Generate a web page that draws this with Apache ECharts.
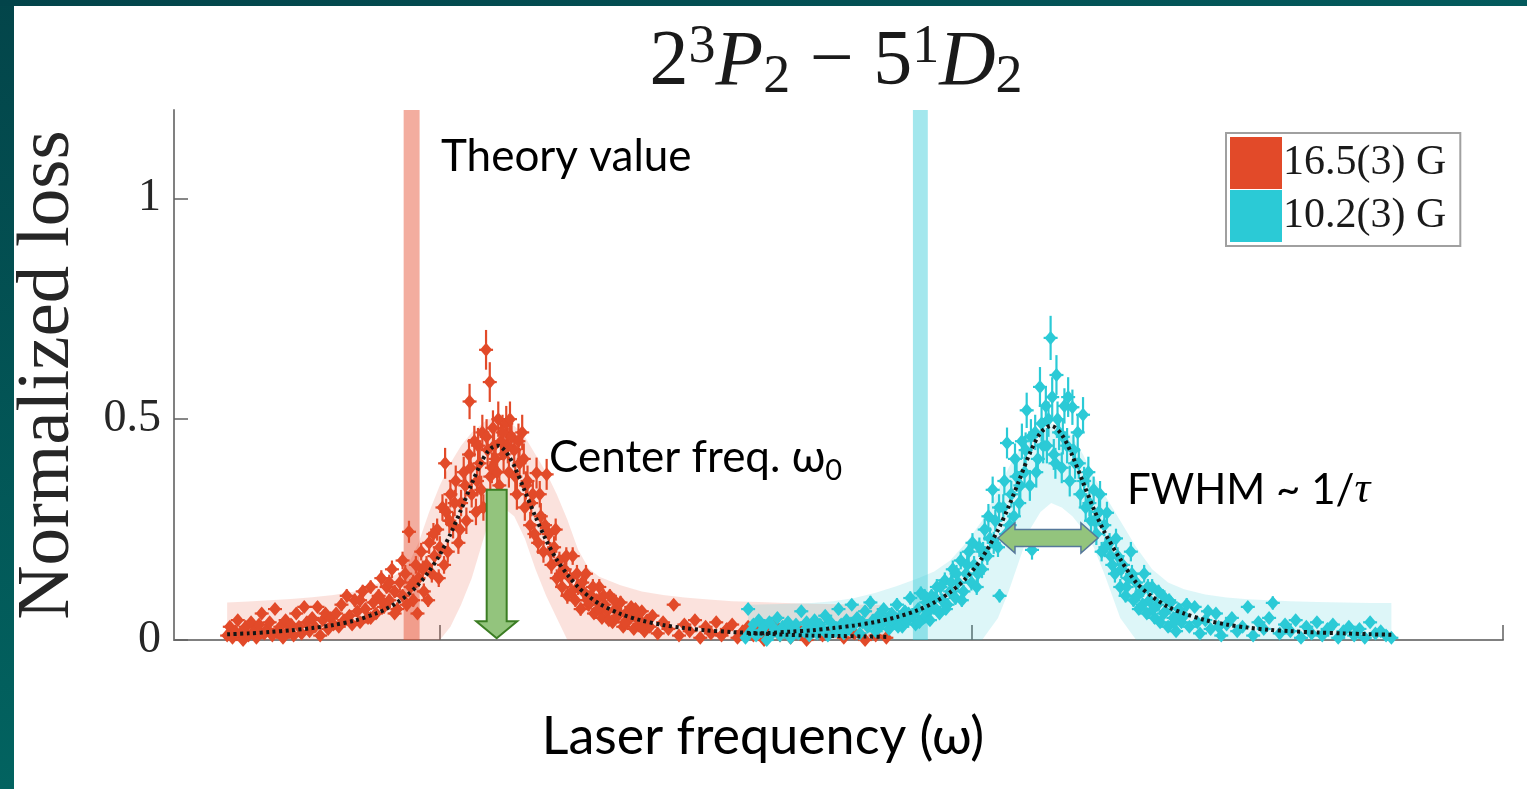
<!DOCTYPE html>
<html><head><meta charset="utf-8">
<script src="https://cdn.jsdelivr.net/npm/echarts@6/dist/echarts.min.js"></script>
<style>html,body{margin:0;padding:0;background:#fff}#c{width:1527px;height:789px}</style>
</head><body><div id="c"></div>
<script>
// ---------- DATA ----------
const seriesNames = ['16.5(3) G', '10.2(3) G'];
const yTicks = [0, 0.5, 1];
const xTicks = [0, 10, 20];
// theory value ranges (laser frequency units)
const theoryRed = [-0.68, -0.38];
const theoryCyan = [8.9, 9.18];
// measured points: [frequency, normalized loss, error]
const redPoints = [
[-4.0,0.01,0.01],[-3.95,0.03,0.01],[-3.9,0.005,0.01],[-3.85,0.02,0.01],[-3.8,0.045,0.012],[-3.75,0.015,0.01],[-3.7,0.0,0.01],[-3.65,0.03,0.01],[-3.6,0.01,0.01],[-3.55,0.04,0.012],[-3.5,0.02,0.01],[-3.45,0.005,0.01],[-3.4,0.035,0.01],[-3.35,0.06,0.012],[-3.3,0.015,0.01],[-3.25,0.025,0.01],[-3.2,0.04,0.01],[-3.15,0.01,0.01],[-3.1,0.07,0.012],[-3.05,0.02,0.01],[-3.0,0.03,0.01],[-2.95,0.005,0.01],[-2.9,0.045,0.012],[-2.85,0.02,0.01],[-2.8,0.035,0.01],[-2.75,0.01,0.01],[-2.7,0.06,0.012],[-2.65,0.03,0.01],[-2.6,0.015,0.01],[-2.55,0.075,0.012],[-2.5,0.04,0.01],[-2.45,0.02,0.01],[-2.4,0.05,0.012],[-2.35,0.03,0.01],[-2.3,0.075,0.012],[-2.25,0.01,0.01],[-2.2,0.045,0.012],[-2.15,0.06,0.012],[-2.1,0.025,0.01],[-2.05,0.05,0.012],[-2.0,0.035,0.01],
[-1.95,0.06,0.012],[-1.9,0.03,0.01],[-1.85,0.08,0.015],[-1.8,0.045,0.012],[-1.75,0.1,0.015],[-1.7,0.055,0.012],[-1.65,0.035,0.01],[-1.6,0.09,0.015],[-1.55,0.065,0.012],[-1.5,0.04,0.012],[-1.45,0.11,0.015],[-1.4,0.07,0.012],[-1.35,0.05,0.012],[-1.3,0.12,0.015],[-1.25,0.085,0.015],[-1.2,0.06,0.012],[-1.15,0.1,0.015],[-1.1,0.14,0.018],[-1.05,0.075,0.015],[-1.0,0.12,0.015],[-0.95,0.09,0.015],[-0.9,0.16,0.02],[-0.85,0.11,0.015],[-0.8,0.07,0.015],[-0.75,0.13,0.018],[-0.7,0.1,0.015],[-0.65,0.15,0.02],[-0.58,0.245,0.025],[-0.55,0.12,0.018],[-0.5,0.09,0.015],[-0.45,0.17,0.02],[-0.4,0.14,0.02],[-0.35,0.2,0.02],[-0.3,0.11,0.018],[-0.25,0.17,0.02],[-0.2,0.22,0.025],[-0.15,0.15,0.02],[-0.1,0.19,0.02],[-0.05,0.25,0.025],[0.0,0.21,0.025],
[0.05,0.3,0.03],[0.1,0.4,0.035],[0.12,0.29,0.03],[0.15,0.2,0.025],[0.2,0.33,0.03],[0.25,0.26,0.03],[0.3,0.36,0.035],[0.35,0.22,0.025],[0.4,0.31,0.03],[0.45,0.38,0.035],[0.5,0.27,0.03],[0.55,0.42,0.035],[0.56,0.54,0.04],[0.6,0.33,0.03],[0.65,0.45,0.035],[0.7,0.36,0.035],[0.75,0.4,0.035],[0.8,0.47,0.04],[0.82,0.3,0.03],[0.87,0.657,0.045],[0.9,0.43,0.04],[0.94,0.584,0.045],[0.95,0.37,0.035],[1.0,0.48,0.04],[1.05,0.41,0.04],[1.1,0.5,0.04],[1.12,0.35,0.035],[1.15,0.45,0.04],[1.2,0.42,0.04],[1.25,0.49,0.04],[1.3,0.38,0.035],[1.35,0.46,0.04],[1.4,0.43,0.04],[1.45,0.33,0.035],[1.5,0.4,0.035],[1.55,0.47,0.04],[1.6,0.3,0.03],[1.65,0.36,0.035],[1.7,0.26,0.03],[1.75,0.33,0.03],[1.82,0.378,0.035],[1.85,0.22,0.025],[1.9,0.28,0.03],[1.95,0.2,0.025],[2.01,0.375,0.035],[2.05,0.24,0.025],[2.1,0.17,0.02],[2.15,0.21,0.025],[2.2,0.14,0.02],[2.25,0.18,0.02],
[2.3,0.12,0.02],[2.35,0.16,0.02],[2.4,0.1,0.018],[2.45,0.14,0.02],[2.5,0.19,0.02],[2.55,0.09,0.015],[2.6,0.12,0.018],[2.65,0.07,0.015],[2.7,0.11,0.018],[2.75,0.15,0.02],[2.8,0.08,0.015],[2.85,0.1,0.015],[2.9,0.06,0.012],[2.95,0.09,0.015],[3.0,0.12,0.018],[3.05,0.05,0.012],[3.1,0.08,0.015],[3.15,0.065,0.012],[3.2,0.1,0.015],[3.25,0.04,0.012],[3.3,0.07,0.012],[3.35,0.055,0.012],[3.4,0.085,0.015],[3.45,0.03,0.01],[3.5,0.06,0.012],[3.55,0.045,0.012],[3.6,0.075,0.012],[3.65,0.025,0.01],[3.7,0.05,0.012],[3.75,0.035,0.01],[3.8,0.065,0.012],[3.85,0.02,0.01],[3.9,0.045,0.012],[3.95,0.03,0.01],[4.0,0.055,0.012],[4.1,0.015,0.01],[4.2,0.04,0.01],[4.3,0.025,0.01],[4.4,0.08,0.012],[4.5,0.01,0.01],[4.6,0.035,0.01],[4.7,0.02,0.01],[4.8,0.045,0.012],[4.9,0.005,0.01],[5.0,0.03,0.01],[5.1,0.015,0.01],[5.2,0.04,0.01],[5.3,0.01,0.01],[5.4,0.025,0.01],[5.5,0.035,0.01],[5.6,0.005,0.01],[5.7,0.02,0.01],[5.8,0.03,0.01],[5.9,0.01,0.01],[6.0,0.025,0.01],[6.1,0.0,0.01],[6.2,0.02,0.01],[6.3,0.035,0.01],[6.4,0.01,0.01],[6.5,0.02,0.01],[6.6,0.005,0.01],[6.7,0.03,0.01],[6.8,0.015,0.01],[6.9,0.0,0.01],[7.0,0.02,0.01],[7.2,0.01,0.01],[7.4,0.025,0.01],[7.6,0.005,0.01],[7.8,0.015,0.01],[8.0,0.0,0.01],[8.2,0.01,0.01],[8.4,0.005,0.01],
[-1.5,0.09,0.015],[-1.3,0.05,0.012],[-1.1,0.09,0.015],[-0.95,0.13,0.018],[-0.85,0.06,0.012],[-0.7,0.18,0.02],[-0.62,0.08,0.015],[-0.5,0.13,0.018],[-0.42,0.06,0.012],[-0.32,0.16,0.02],[-0.22,0.09,0.015],[-0.12,0.24,0.025],[-0.02,0.14,0.02],[0.08,0.17,0.02],[0.18,0.27,0.028],[0.28,0.31,0.03],[0.38,0.25,0.028],[0.48,0.35,0.032],[0.58,0.39,0.035],[0.68,0.29,0.03],[0.72,0.44,0.04],[0.78,0.34,0.032],[0.88,0.46,0.04],[0.98,0.39,0.035],[1.02,0.44,0.04],[1.08,0.38,0.035],[1.18,0.47,0.04],[1.28,0.44,0.04],[1.32,0.5,0.04],[1.42,0.37,0.035],[1.48,0.45,0.04],[1.58,0.41,0.035],[1.62,0.35,0.032],[1.72,0.31,0.03],[1.78,0.24,0.025],[1.88,0.33,0.03],[1.98,0.26,0.025],[2.08,0.2,0.022],[2.18,0.25,0.025],[2.28,0.15,0.02],[2.38,0.19,0.02],[2.48,0.11,0.018],[2.58,0.15,0.02],[2.68,0.13,0.018],[2.78,0.09,0.015],[2.88,0.12,0.018],[2.98,0.07,0.012],[3.08,0.1,0.015],[3.18,0.045,0.012],[3.28,0.09,0.015],[3.38,0.06,0.012],[3.48,0.04,0.01],[3.58,0.055,0.012],[3.68,0.07,0.012],[3.78,0.03,0.01]
];
const cyanPoints = [
[5.75,0.005,0.01],[5.8,0.07,0.012],[5.85,0.02,0.01],[5.9,0.035,0.01],[5.95,0.01,0.01],[6.0,0.045,0.012],[6.05,0.02,0.01],[6.1,0.03,0.01],[6.15,0.0,0.01],[6.2,0.04,0.012],[6.25,0.015,0.01],[6.3,0.025,0.01],[6.35,0.05,0.012],[6.4,0.01,0.01],[6.45,0.03,0.01],[6.5,0.02,0.01],[6.55,0.04,0.012],[6.6,0.005,0.01],[6.65,0.025,0.01],[6.7,0.035,0.01],[6.75,0.015,0.01],[6.8,0.065,0.012],[6.85,0.02,0.01],[6.9,0.04,0.012],[6.95,0.01,0.01],[7.0,0.03,0.01],[7.05,0.045,0.012],[7.1,0.015,0.01],[7.15,0.035,0.01],[7.2,0.025,0.01],[7.25,0.055,0.012],[7.3,0.01,0.01],[7.35,0.04,0.012],[7.4,0.03,0.01],[7.45,0.02,0.01],[7.5,0.07,0.012],[7.55,0.035,0.01],[7.6,0.015,0.01],[7.65,0.045,0.012],[7.7,0.025,0.01],[7.75,0.08,0.012],[7.8,0.035,0.01],[7.85,0.05,0.012],[7.9,0.015,0.01],[7.95,0.04,0.012],[8.0,0.065,0.012],[8.05,0.03,0.01],[8.1,0.085,0.015],[8.15,0.045,0.012],[8.2,0.02,0.01],[8.25,0.055,0.012],[8.3,0.035,0.01],[8.35,0.07,0.012],[8.4,0.045,0.012],[8.45,0.025,0.01],[8.5,0.06,0.012],[8.55,0.04,0.012],[8.6,0.08,0.015],[8.65,0.05,0.012],[8.7,0.03,0.01],[8.75,0.065,0.012],[8.8,0.045,0.012],[8.85,0.095,0.015],[8.9,0.055,0.012],[8.95,0.035,0.01],[9.0,0.07,0.012],
[9.05,0.106,0.015],[9.1,0.05,0.012],[9.15,0.085,0.015],[9.2,0.065,0.012],[9.25,0.1,0.015],[9.3,0.075,0.012],[9.35,0.12,0.018],[9.4,0.06,0.012],[9.45,0.09,0.015],[9.5,0.135,0.018],[9.55,0.08,0.015],[9.6,0.11,0.015],[9.65,0.16,0.02],[9.7,0.095,0.015],[9.75,0.13,0.018],[9.8,0.18,0.02],[9.85,0.11,0.015],[9.9,0.15,0.02],[9.95,0.2,0.022],[10.0,0.13,0.018],[10.05,0.17,0.02],[10.1,0.12,0.018],[10.15,0.21,0.022],[10.2,0.16,0.02],[10.25,0.25,0.025],[10.3,0.19,0.02],[10.35,0.23,0.025],[10.4,0.34,0.03],[10.45,0.27,0.025],[10.5,0.21,0.022],[10.53,0.1,0.015],[10.6,0.3,0.03],[10.65,0.24,0.025],[10.67,0.446,0.035],[10.75,0.33,0.03],[10.8,0.28,0.03],[10.85,0.37,0.035],[10.9,0.31,0.03],[10.95,0.45,0.04],[11.0,0.38,0.035],[11.04,0.52,0.04],[11.1,0.35,0.035],[11.14,0.204,0.022],[11.2,0.47,0.04],[11.25,0.41,0.035],[11.29,0.573,0.045],[11.35,0.44,0.04],[11.4,0.53,0.045],[11.45,0.5,0.04],[11.49,0.684,0.05],[11.55,0.42,0.035],[11.6,0.6,0.045],[11.65,0.47,0.04],[11.7,0.39,0.035],[11.75,0.53,0.04],[11.8,0.44,0.04],[11.85,0.36,0.035],[11.9,0.527,0.04],[11.95,0.4,0.035],[12.0,0.47,0.04],[12.05,0.33,0.03],[12.1,0.51,0.04],[12.15,0.3,0.03],[12.2,0.38,0.035],[12.25,0.27,0.025],[12.3,0.34,0.03],[12.35,0.24,0.025],[12.4,0.29,0.03],[12.45,0.2,0.022],[12.5,0.26,0.025],[12.55,0.288,0.025],[12.6,0.22,0.022],[12.65,0.17,0.02],[12.7,0.15,0.02],[12.75,0.19,0.02],[12.8,0.12,0.018],[12.85,0.17,0.02],[12.9,0.1,0.015],[12.95,0.14,0.018],[13.0,0.2,0.022],[13.05,0.09,0.015],[13.1,0.13,0.018],[13.15,0.07,0.012],[13.2,0.11,0.015],[13.25,0.15,0.02],[13.3,0.06,0.012],[13.35,0.09,0.015],[13.4,0.12,0.018],[13.45,0.05,0.012],[13.5,0.08,0.015],[13.55,0.04,0.012],[13.6,0.1,0.015],[13.65,0.065,0.012],[13.7,0.03,0.01],[13.75,0.085,0.015],[13.8,0.05,0.012],[13.85,0.02,0.01],[13.9,0.07,0.012],[13.95,0.04,0.012],[14.0,0.055,0.012],[14.1,0.03,0.01],[14.2,0.075,0.012],[14.3,0.015,0.01],[14.4,0.045,0.012],[14.5,0.025,0.01],[14.6,0.06,0.012],[14.7,0.01,0.01],[14.8,0.035,0.01],[14.9,0.05,0.012],[15.0,0.02,0.01],[15.1,0.03,0.01],[15.2,0.075,0.012],[15.3,0.01,0.01],[15.4,0.04,0.012],[15.5,0.025,0.01],[15.6,0.05,0.012],[15.67,0.084,0.015],[15.8,0.015,0.01],[15.9,0.035,0.01],[16.0,0.02,0.01],[16.1,0.045,0.012],[16.2,0.005,0.01],[16.3,0.03,0.01],[16.4,0.015,0.01],[16.5,0.04,0.012],[16.6,0.01,0.01],[16.7,0.025,0.01],[16.8,0.035,0.01],[16.9,0.005,0.01],[17.0,0.02,0.01],[17.1,0.03,0.01],[17.2,0.01,0.01],[17.3,0.025,0.01],[17.4,0.005,0.01],[17.5,0.04,0.012],[17.6,0.015,0.01],[17.7,0.02,0.01],[17.8,0.01,0.01],[17.9,0.005,0.01],
[9.52,0.07,0.012],[9.62,0.13,0.018],[9.72,0.15,0.02],[9.82,0.09,0.015],[9.92,0.17,0.02],[10.02,0.22,0.022],[10.12,0.15,0.02],[10.22,0.2,0.022],[10.32,0.28,0.028],[10.42,0.22,0.025],[10.52,0.3,0.03],[10.62,0.36,0.032],[10.72,0.26,0.028],[10.82,0.41,0.035],[10.92,0.35,0.032],[11.02,0.43,0.04],[11.12,0.46,0.04],[11.22,0.38,0.035],[11.32,0.49,0.04],[11.42,0.44,0.04],[11.52,0.55,0.045],[11.58,0.4,0.035],[11.62,0.5,0.04],[11.72,0.46,0.04],[11.82,0.55,0.045],[11.92,0.43,0.035],[12.02,0.4,0.035],[12.12,0.36,0.032],[12.22,0.31,0.03],[12.32,0.27,0.028],[12.42,0.33,0.03],[12.52,0.21,0.022],[12.62,0.19,0.02],[12.72,0.23,0.022],[12.82,0.16,0.02],[12.92,0.12,0.018],[13.02,0.15,0.02],[13.12,0.1,0.015],[13.22,0.08,0.015],[13.32,0.12,0.018],[13.42,0.07,0.012],[13.52,0.11,0.015],[13.62,0.06,0.012],[13.72,0.09,0.015],[13.82,0.04,0.012],[13.92,0.06,0.012],[14.05,0.08,0.015],[14.25,0.04,0.012],[14.45,0.065,0.012],[14.65,0.03,0.01],[8.62,0.03,0.01],[8.82,0.06,0.012],[9.02,0.04,0.012],[9.12,0.1,0.015],[9.22,0.045,0.012],[9.32,0.095,0.015],[9.42,0.12,0.018]
];
// Lorentzian fits and confidence bands
const redFitX = [-4.0,-3.6,-3.2,-2.8,-2.4,-2.0,-1.6,-1.2,-1.0,-0.8,-0.6,-0.4,-0.2,0.0,0.2,0.4,0.6,0.8,0.9,1.0,1.1,1.2,1.3,1.4,1.6,1.8,2.0,2.2,2.4,2.6,2.8,3.0,3.4,3.8,4.2,4.6,5.0,5.5,6.0,6.5,7.0,7.5,8.0,8.4];
const redFitY = [0.013,0.015,0.018,0.022,0.027,0.034,0.044,0.06,0.071,0.085,0.103,0.126,0.156,0.193,0.24,0.295,0.354,0.407,0.426,0.437,0.44,0.432,0.416,0.394,0.337,0.279,0.226,0.182,0.148,0.12,0.099,0.082,0.059,0.044,0.034,0.027,0.022,0.018,0.015,0.012,0.010,0.009,0.008,0.007];
const redUpper = [0.085,0.087,0.09,0.093,0.097,0.102,0.11,0.126,0.137,0.15,0.17,0.22,0.29,0.35,0.4,0.44,0.47,0.49,0.5,0.5,0.5,0.5,0.49,0.485,0.46,0.42,0.38,0.33,0.272,0.205,0.162,0.143,0.124,0.11,0.102,0.096,0.092,0.088,0.086,0.084,0.082,0.081,0.08,0.08];
const redLower = [0,0,0,0,0,0,0,0,0,0,0,0,0,0,0.03,0.08,0.14,0.22,0.26,0.28,0.3,0.3,0.29,0.28,0.23,0.16,0.1,0.05,0,0,0,0,0,0,0,0,0,0,0,0,0,0,0,0];
const cyanFitX = [5.8,6.2,6.6,7.0,7.4,7.8,8.2,8.6,9.0,9.3,9.6,9.9,10.2,10.5,10.7,10.9,11.1,11.3,11.5,11.7,11.9,12.1,12.3,12.5,12.8,13.1,13.4,13.7,14.0,14.4,14.8,15.2,15.6,16.0,16.5,17.0,17.5,17.9];
const cyanFitY = [0.014,0.016,0.019,0.022,0.027,0.033,0.041,0.052,0.068,0.085,0.108,0.14,0.186,0.249,0.302,0.362,0.423,0.469,0.485,0.465,0.417,0.357,0.297,0.245,0.183,0.13,0.098,0.075,0.06,0.045,0.035,0.028,0.023,0.02,0.017,0.015,0.013,0.012];
const cyanUpper = [0.08,0.081,0.082,0.084,0.088,0.095,0.107,0.122,0.14,0.155,0.18,0.22,0.27,0.34,0.39,0.43,0.46,0.48,0.49,0.48,0.46,0.42,0.37,0.33,0.27,0.21,0.16,0.13,0.115,0.103,0.096,0.092,0.09,0.088,0.086,0.085,0.084,0.084];
const cyanLower = [0,0,0,0,0,0,0,0,0,0,0,0,0,0.05,0.11,0.18,0.25,0.29,0.31,0.3,0.28,0.25,0.21,0.15,0.05,0,0,0,0,0,0,0,0,0,0,0,0,0];
// annotation arrows: [x, yFrom, yTo] and [xFrom, xTo, y]
const centerArrow = [1.07, 0.34, 0.004];
const fwhmArrow = [10.5, 12.38, 0.231];

// ---------- STYLE ----------
const RED = '#E24A29', CYAN = '#2BCAD6';
const SERIF = '"Liberation Serif","DejaVu Serif",serif';
const SANS = 'Lato,"Noto Sans","DejaVu Sans",sans-serif';

const chart = echarts.init(document.getElementById('c'), null, {renderer: 'canvas'});

function bandRender(xs, up, lo, fill) {
  return function (params, api) {
    const pts = [];
    for (let i = 0; i < xs.length; i++) pts.push(api.coord([xs[i], up[i]]));
    for (let i = xs.length - 1; i >= 0; i--) pts.push(api.coord([xs[i], lo[i]]));
    return {type: 'polygon', shape: {points: pts, smooth: 0}, style: {fill: fill}};
  };
}
function theoryRender(range, fill) {
  return function (params, api) {
    const a = api.coord([range[0], 1.2]), b = api.coord([range[1], 0]);
    return {type: 'rect', shape: {x: a[0], y: a[1], width: b[0] - a[0], height: b[1] - a[1]}, style: {fill: fill}};
  };
}
function errRender(color) {
  return function (params, api) {
    const x = api.value(0), y = api.value(1), e = api.value(2);
    const p1 = api.coord([x, y + e]), p2 = api.coord([x, Math.max(0, y - e)]), c = api.coord([x, y]);
    return {type: 'group', children: [
      {type: 'line', shape: {x1: p1[0], y1: p1[1], x2: p2[0], y2: p2[1]}, style: {stroke: color, lineWidth: 2.2}},
      {type: 'line', shape: {x1: c[0] - 7, y1: c[1], x2: c[0] + 7, y2: c[1]}, style: {stroke: color, lineWidth: 2.2}}
    ]};
  };
}

const option = {
  backgroundColor: '#ffffff',
  animation: false,
  grid: {left: 174, top: 110, right: 24, bottom: 149, containLabel: false},
  xAxis: {
    type: 'value', min: -5, max: 20,
    axisLine: {show: true, onZero: false, lineStyle: {color: '#808080', width: 2}},
    axisTick: {show: true, inside: true, length: 15, customValues: xTicks, lineStyle: {color: '#606060', width: 1.5}},
    axisLabel: {show: false},
    splitLine: {show: false}
  },
  yAxis: {
    type: 'value', min: 0, max: 1.2,
    name: 'Normalized loss', nameLocation: 'middle', nameGap: 88,
    nameTextStyle: {fontFamily: SERIF, fontSize: 75, color: '#262626'},
    axisLine: {show: true, onZero: false, lineStyle: {color: '#808080', width: 2}},
    axisTick: {show: true, inside: true, length: 14, customValues: yTicks, lineStyle: {color: '#606060', width: 1.5}},
    axisLabel: {customValues: yTicks, fontFamily: SERIF, fontSize: 46, color: '#262626', margin: 13},
    splitLine: {show: false}
  },
  legend: {
    data: seriesNames, orient: 'vertical', left: 1226, top: 133,
    icon: 'rect', itemWidth: 52, itemHeight: 52, itemGap: 1,
    padding: [4, 14, 4, 4], borderColor: '#a0a0a0', borderWidth: 2, backgroundColor: '#ffffff',
    selectedMode: false,
    textStyle: {fontFamily: SERIF, fontSize: 42, color: '#1a1a1a', padding: [0, 0, 0, -4]}
  },
  graphic: [
    {type: 'rect', z: 100, shape: {x: 0, y: 0, width: 14, height: 789},
     style: {fill: new echarts.graphic.LinearGradient(0, 0, 0, 1, [{offset: 0, color: '#03454a'}, {offset: 1, color: '#026360'}])}},
    {type: 'rect', z: 100, shape: {x: 0, y: 0, width: 1527, height: 6},
     style: {fill: new echarts.graphic.LinearGradient(0, 0, 1, 0, [{offset: 0, color: '#03444a'}, {offset: 1, color: '#035a5c'}])}},
    {type: 'text', z: 100, x: 836, y: 63,
     style: {text: '{n|2}{sup|3}{it|P}{sub|2}{n| − 5}{sup|1}{it|D}{sub|2}', align: 'center', verticalAlign: 'middle',
       rich: {
         n: {fontFamily: SERIF, fontSize: 78, lineHeight: 84, fill: '#1a1a1a'},
         it: {fontFamily: SERIF, fontStyle: 'italic', fontSize: 78, lineHeight: 84, fill: '#1a1a1a'},
         sup: {fontFamily: SERIF, fontSize: 54, lineHeight: 44, verticalAlign: 'top', fill: '#1a1a1a'},
         sub: {fontFamily: SERIF, fontSize: 54, lineHeight: 36, verticalAlign: 'bottom', fill: '#1a1a1a'}
       }}},
    {type: 'text', z: 100, x: 441, y: 157, style: {text: 'Theory value', fontFamily: SANS, fontSize: 44, fill: '#000', align: 'left', verticalAlign: 'middle'}},
    {type: 'text', z: 100, x: 549, y: 458,
     style: {text: '{t|Center freq. ω}{s|0}', align: 'left', verticalAlign: 'middle',
       rich: {t: {fontFamily: SANS, fontSize: 44, lineHeight: 54, fill: '#000'}, s: {fontFamily: SANS, fontSize: 29, lineHeight: 32, verticalAlign: 'bottom', fill: '#000'}}}},
    {type: 'text', z: 100, x: 1127, y: 490,
     style: {text: '{t|FWHM ~ 1/}{i|τ}', align: 'left', verticalAlign: 'middle',
       rich: {t: {fontFamily: SANS, fontSize: 42, fill: '#000'}, i: {fontFamily: SERIF, fontStyle: 'italic', fontSize: 44, fill: '#000'}}}},
    {type: 'text', z: 100, x: 763, y: 737, style: {text: 'Laser frequency (ω)', fontFamily: SANS, fontSize: 52, fill: '#000', align: 'center', verticalAlign: 'middle'}}
  ],
  series: [
    {type: 'custom', name: 'redBand', silent: true, z: 1, data: [0], renderItem: bandRender(redFitX, redUpper, redLower, 'rgba(232,84,52,0.17)')},
    {type: 'custom', name: 'cyanBand', silent: true, z: 1, data: [0], renderItem: bandRender(cyanFitX, cyanUpper, cyanLower, 'rgba(42,200,214,0.16)')},
    {type: 'custom', name: 'theoryR', silent: true, z: 2, data: [0], renderItem: theoryRender(theoryRed, 'rgba(228,76,45,0.46)')},
    {type: 'custom', name: 'theoryC', silent: true, z: 2, data: [0], renderItem: theoryRender(theoryCyan, 'rgba(42,200,214,0.43)')},
    {type: 'custom', name: 'redErr', silent: true, z: 3, data: redPoints, renderItem: errRender(RED)},
    {type: 'custom', name: 'cyanErr', silent: true, z: 3, data: cyanPoints, renderItem: errRender(CYAN)},
    {type: 'scatter', name: seriesNames[0], z: 4, data: redPoints.map(p => [p[0], p[1]]), symbol: 'diamond', symbolSize: [12, 14], itemStyle: {color: RED, opacity: 1}},
    {type: 'scatter', name: seriesNames[1], z: 4, data: cyanPoints.map(p => [p[0], p[1]]), symbol: 'diamond', symbolSize: [12, 14], itemStyle: {color: CYAN, opacity: 1}},
    {type: 'line', name: 'redFit', z: 5, silent: true, smooth: 0.3, symbol: 'none', data: redFitX.map((x, i) => [x, redFitY[i]]),
     lineStyle: {color: '#151515', width: 4, type: [3, 3.5], cap: 'butt'}},
    {type: 'line', name: 'cyanFit', z: 5, silent: true, smooth: 0.3, symbol: 'none', data: cyanFitX.map((x, i) => [x, cyanFitY[i]]),
     lineStyle: {color: '#151515', width: 4, type: [3, 3.5], cap: 'butt'}},
    {type: 'custom', name: 'arrowDown', silent: true, z: 6, data: [centerArrow],
     renderItem: function (params, api) {
       const top = api.coord([api.value(0), api.value(1)]), tip = api.coord([api.value(0), api.value(2)]);
       const cx = tip[0], sw = 10, hw = 20.5, hh = 17;
       return {type: 'polygon', shape: {points: [[cx - sw, top[1]], [cx + sw, top[1]], [cx + sw, tip[1] - hh], [cx + hw, tip[1] - hh], [cx, tip[1]], [cx - hw, tip[1] - hh], [cx - sw, tip[1] - hh]]},
         style: {fill: '#93C47D', stroke: '#3B7D23', lineWidth: 2}};
     }},
    {type: 'custom', name: 'arrowH', silent: true, z: 6, data: [fwhmArrow],
     renderItem: function (params, api) {
       const a = api.coord([api.value(0), api.value(2)]), b = api.coord([api.value(1), api.value(2)]);
       const y = a[1], hl = 17, hh = 15, sh = 8.5;
       return {type: 'polygon', shape: {points: [[a[0], y], [a[0] + hl, y - hh], [a[0] + hl, y - sh], [b[0] - hl, y - sh], [b[0] - hl, y - hh], [b[0], y], [b[0] - hl, y + hh], [b[0] - hl, y + sh], [a[0] + hl, y + sh], [a[0] + hl, y + hh]]},
         style: {fill: '#93C47D', stroke: '#56789A', lineWidth: 1.5}};
     }}
  ]
};
chart.setOption(option);
</script>
</body></html>
